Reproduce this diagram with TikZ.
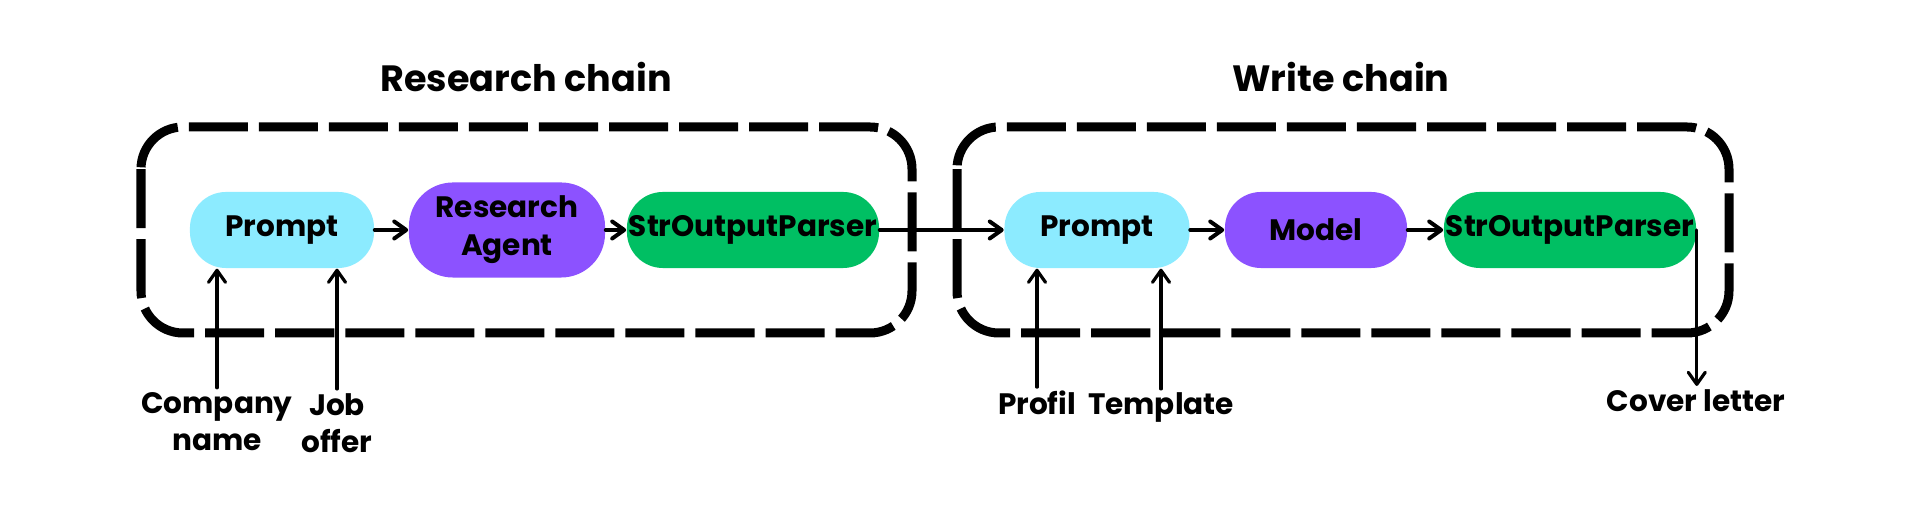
\documentclass[tikz,border=0pt]{standalone}
\usepackage{fontspec}
\setmainfont{Poppins}
\usetikzlibrary{arrows.meta}

\definecolor{promptcol}{HTML}{8CEBFF}
\definecolor{agentcol}{HTML}{8C52FF}
\definecolor{parsercol}{HTML}{00BF63}

\tikzset{
	block/.style={rectangle, rounded corners=0.36cm, minimum height=0.76cm, inner sep=0pt, align=center, font=\fontsize{8.4}{10.8}\selectfont\bfseries},
	chainbox/.style={line width=0.09cm, dash pattern=on 0.59cm off 0.11cm, rounded corners=0.42cm},
	flow/.style={line width=0.04cm, line cap=round, -{Straight Barb[length=1.2mm, width=1.7mm, line cap=round, line join=round]}},
	feed/.style={flow, line width=0.032cm},
	lab/.style={inner sep=1pt, align=center, font=\fontsize{8.4}{10.8}\selectfont\bfseries},
	chaintitle/.style={inner sep=0pt, font=\fontsize{10.4}{12}\selectfont\bfseries}
}

\begin{document}
\begin{tikzpicture}[x=0.01cm, y=-0.01cm]
	\useasboundingbox (0, 0) rectangle (1920, 522);
	% titles
	\node[chaintitle, anchor=base] (researchtitle) at (526, 92) {Research chain};
	\node[chaintitle, anchor=base] (writetitle) at (1341, 92) {Write chain};
	% dashed chain boxes
	\draw[chainbox] (141, 127) rectangle (912, 333);
	\draw[chainbox] (957, 127) rectangle (1729, 333);
	% research chain
	\node[block, fill=promptcol, minimum width=1.84cm] (prompt1) at (282, 230) {Prompt};
	\node[block, fill=agentcol, minimum width=1.96cm, minimum height=0.95cm, rounded corners=0.44cm] (agent) at (507, 230) {Research\\Agent};
	\node[block, fill=parsercol, minimum width=2.52cm] (parser1) at (753, 230) {StrOutputParser};
	% write chain
	\node[block, fill=promptcol, minimum width=1.85cm] (prompt2) at (1097, 230) {Prompt};
	\node[block, fill=agentcol, minimum width=1.82cm] (model) at (1316, 230) {Model};
	\node[block, fill=parsercol, minimum width=2.52cm] (parser2) at (1570, 230) {StrOutputParser};
	% inputs and output
	\node[lab, anchor=base] (company) at (217, 451) {Company\\name};
	\node[lab, anchor=base] (joboffer) at (337, 453) {Job\\offer};
	\node[lab, anchor=base] (profil) at (1037, 415) {Profil};
	\node[lab, anchor=base] (template) at (1161, 415) {Template};
	\node[lab, anchor=base] (letter) at (1696, 412) {Cover letter};
	% connectors
	\draw[flow] (prompt1) -- (agent);
	\draw[flow] (agent) -- (parser1);
	\draw[flow] (parser1) -- (prompt2);
	\draw[flow] (prompt2) -- (model);
	\draw[flow] (model) -- (parser2);
	\draw[feed] (company.north) -- (company.north |- prompt1.south);
	\draw[feed] (joboffer.north) -- (joboffer.north |- prompt1.south);
	\draw[feed] (profil.north) -- (profil.north |- prompt2.south);
	\draw[feed] (template.north) -- (template.north |- prompt2.south);
	\draw[feed] (parser2.east) -- (parser2.east |- letter.north);
\end{tikzpicture}
\end{document}
